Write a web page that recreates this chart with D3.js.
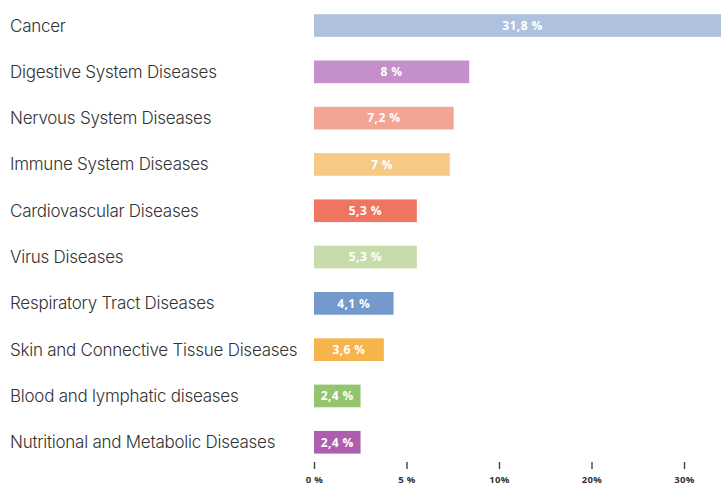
<!DOCTYPE html>
<html>
<head>
<meta charset="utf-8">
<script src="https://cdn.jsdelivr.net/npm/d3@7"></script>
<style>
  html, body { margin: 0; padding: 0; background: #fff; }
  svg { display: block; }
</style>
</head>
<body>
<svg id="chart" width="721" height="486"></svg>
<script>
// Share of studies by disease area
const categories = [
  "Cancer",
  "Digestive System Diseases",
  "Nervous System Diseases",
  "Immune System Diseases",
  "Cardiovascular Diseases",
  "Virus Diseases",
  "Respiratory Tract Diseases",
  "Skin and Connective Tissue Diseases",
  "Blood and lymphatic diseases",
  "Nutritional and Metabolic Diseases"
];
const values = [31.8, 8, 7.2, 7, 5.3, 5.3, 4.1, 3.6, 2.4, 2.4];
const valueLabels = ["31,8 %", "8 %", "7,2 %", "7 %", "5,3 %", "5,3 %", "4,1 %", "3,6 %", "2,4 %", "2,4 %"];
const colors = ["#b0c1e0", "#c48fcb", "#f4a494", "#f6c985", "#f07561",
                "#c7dcaa", "#7399cd", "#f6b44c", "#94c46f", "#ad5fae"];
// Axis ticks are spaced evenly, not proportionally
const tickLabels = ["0 %", "5 %", "10%", "20%", "30%"];

const W = 721, H = 486;
const svg = d3.select("#chart");

const x0 = 314;
const x = d3.scaleLinear().domain([0, 8]).range([x0, x0 + 8 * 19.4]);

const y = d3.scaleBand()
  .domain(categories)
  .range([2.4, 465.4])
  .paddingInner(0.51)
  .paddingOuter(0.255);

// Category labels
svg.append("g")
  .selectAll("text")
  .data(categories)
  .join("text")
  .attr("x", 10)
  .attr("y", d => y(d) + y.bandwidth() / 2)
  .attr("dy", "0.35em")
  .attr("font-family", "Inter, 'Open Sans', sans-serif")
  .attr("font-weight", 300)
  .attr("font-size", 17)
  .attr("letter-spacing", "-0.25px")
  .attr("fill", "#333")
  .text(d => d);

// Bars
svg.append("g")
  .selectAll("rect")
  .data(values)
  .join("rect")
  .attr("x", x(0))
  .attr("y", (d, i) => y(categories[i]))
  .attr("width", d => x(d) - x(0))
  .attr("height", y.bandwidth())
  .attr("fill", (d, i) => colors[i]);

// Value labels, centred on the visible part of each bar
svg.append("g")
  .selectAll("text")
  .data(values)
  .join("text")
  .attr("x", d => (x(0) + Math.min(x(d), W + 10)) / 2)
  .attr("y", (d, i) => y(categories[i]) + y.bandwidth() / 2)
  .attr("dy", "0.36em")
  .attr("text-anchor", "middle")
  .attr("font-family", "'Open Sans', sans-serif")
  .attr("font-weight", 700)
  .attr("font-size", 12)
  .attr("letter-spacing", "0.4px")
  .attr("fill", "#fff")
  .text((d, i) => valueLabels[i]);

// Bottom axis
const xAxis = d3.scalePoint().domain(tickLabels).range([x0, 684]);
const axis = svg.append("g")
  .attr("transform", "translate(0,462)")
  .call(d3.axisBottom(xAxis).tickSize(7).tickPadding(7));
axis.select(".domain").remove();
axis.selectAll(".tick line").attr("stroke", "#444").attr("stroke-width", 1.4);
axis.selectAll(".tick text")
  .attr("font-family", "'Open Sans', sans-serif")
  .attr("font-weight", 700)
  .attr("font-size", 9.5)
  .attr("letter-spacing", "0.4px")
  .attr("fill", "#333");
</script>
</body>
</html>
